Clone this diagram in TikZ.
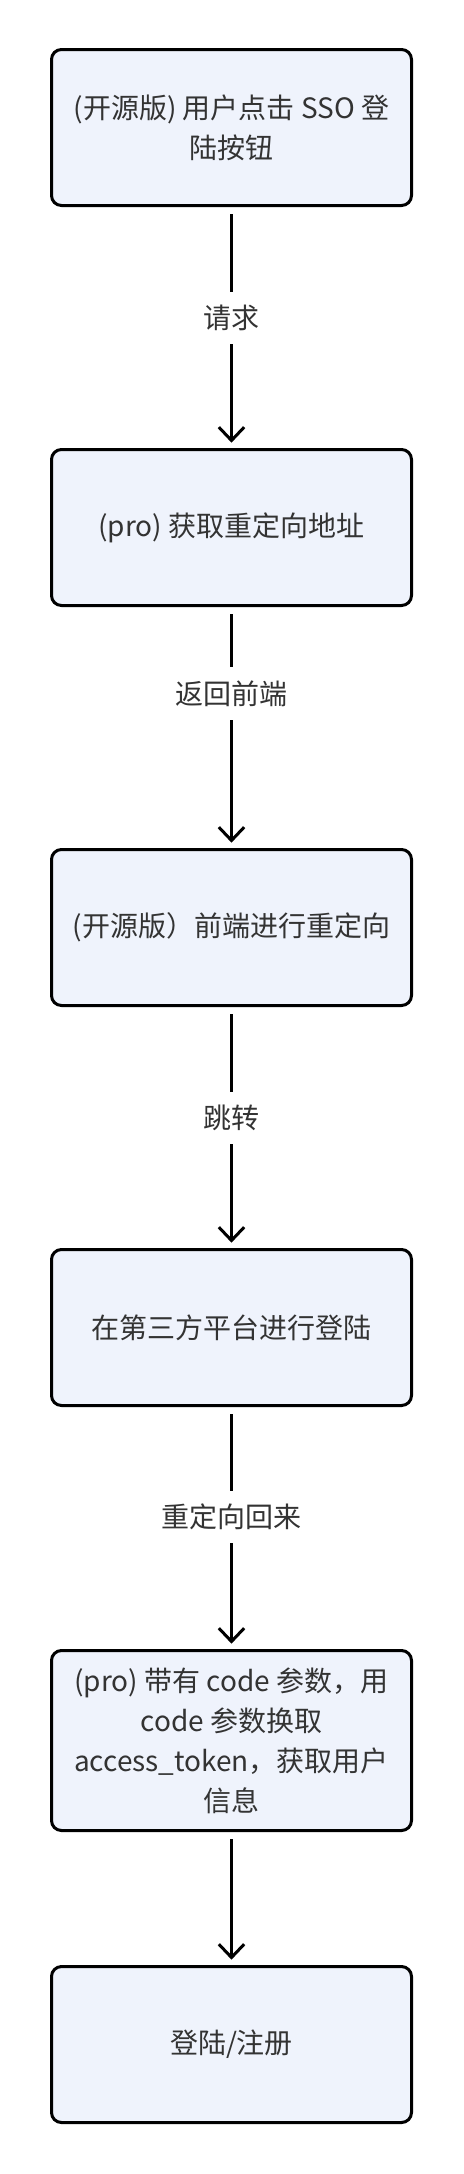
\documentclass[tikz,border=0pt]{standalone}
\usepackage{fontspec}
\setmainfont{Noto Sans CJK SC}
\usepackage{tikz}
\usetikzlibrary{arrows.meta}
\definecolor{boxfill}{HTML}{EFF3FC}
\definecolor{textgray}{HTML}{333333}
\tikzstyle{stepbox}=[draw, rounded corners=7.5pt, line width=2.25pt, fill=boxfill, text=textgray, minimum width=270pt, minimum height=117pt, align=center, font=\fontsize{21}{30}\selectfont]
\tikzstyle{tallbox}=[stepbox, minimum height=135pt]
\tikzstyle{flow}=[line width=2.25pt, -{Straight Barb[length=10pt, width=19pt]}, shorten <=5.25pt, shorten >=4pt]
\tikzstyle{flowlabel}=[fill=white, text=textgray, inner xsep=3pt, inner ysep=10pt, font=\fontsize{21}{30}\selectfont]

\begin{document}
\begin{tikzpicture}[x=0.75pt, y=-0.75pt]
        \useasboundingbox (0, 0) rectangle (464, 2174);
        \node[stepbox]  (S1) at (231.5, 127.5)  {(开源版) 用户点击 SSO 登\\陆按钮};
        \node[stepbox]  (S2) at (231.5, 527.5)  {(pro) 获取重定向地址};
        \node[stepbox]  (S3) at (231.5, 927.5)  {(开源版）前端进行重定向};
        \node[stepbox]  (S4) at (231.5, 1327.5) {在第三方平台进行登陆};
        \node[tallbox]  (S5) at (231.5, 1740.5) {(pro) 带有 code 参数，用\\code 参数换取\\access\_token，获取用户\\信息};
        \node[stepbox]  (S6) at (231.5, 2044.5) {登陆/注册};
        \draw[flow] (S1) -- node[flowlabel, pos=0.46] {请求} (S2);
        \draw[flow] (S2) -- node[flowlabel, pos=0.36] {返回前端} (S3);
        \draw[flow] (S3) -- node[flowlabel, pos=0.46] {跳转} (S4);
        \draw[flow] (S4) -- node[flowlabel, pos=0.455] {重定向回来} (S5);
        \draw[flow] (S5) -- (S6);
    \end{tikzpicture}
\end{document}
